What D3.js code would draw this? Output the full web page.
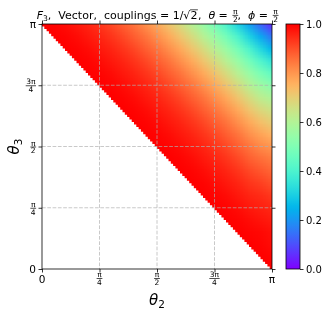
<!DOCTYPE html>
<html><head><meta charset="utf-8">
<script src="https://cdnjs.cloudflare.com/ajax/libs/d3/7.8.5/d3.min.js"></script>
<style>
html,body{margin:0;padding:0;background:#fff;}
svg{display:block;font-family:"DejaVu Sans",sans-serif;}
text{white-space:pre;}
</style></head><body>
<svg id="chart" width="327" height="318"></svg>
<script>
const N = null;
// grid node positions (fractions of pi) for theta2 (columns) and theta3 (rows)
const theta2Nodes = [0,0.05,0.1,0.15,0.2,0.25,0.3,0.35,0.4,0.45,0.5,0.55,0.6,0.65,0.7,0.75,0.8,0.85,0.9,0.95,1];
const theta3Nodes = [0,0.05,0.1,0.15,0.2,0.25,0.3,0.35,0.4,0.45,0.5,0.55,0.6,0.65,0.7,0.75,0.8,0.85,0.9,0.95,1];
// F3 values, rows = theta3 (bottom to top), columns = theta2 (left to right); null = not defined
const F3 = [
 [N,N,N,N,N,N,N,N,N,N,N,N,N,N,N,N,N,N,N,N,1],
 [N,N,N,N,N,N,N,N,N,N,N,N,N,N,N,N,N,N,N,1,.995],
 [N,N,N,N,N,N,N,N,N,N,N,N,N,N,N,N,N,N,1,.995,.985],
 [N,N,N,N,N,N,N,N,N,N,N,N,N,N,N,N,N,1,.995,.99,.98],
 [N,N,N,N,N,N,N,N,N,N,N,N,N,N,N,N,1,.995,.985,.975,.965],
 [N,N,N,N,N,N,N,N,N,N,N,N,N,N,N,1,.995,.985,.97,.96,.95],
 [N,N,N,N,N,N,N,N,N,N,N,N,N,N,1,.995,.985,.97,.955,.945,.93],
 [N,N,N,N,N,N,N,N,N,N,N,N,N,1,.995,.985,.97,.955,.935,.92,.90],
 [N,N,N,N,N,N,N,N,N,N,N,N,1,.995,.985,.97,.955,.935,.91,.89,.87],
 [N,N,N,N,N,N,N,N,N,N,N,1,.995,.985,.97,.955,.935,.91,.88,.86,.84],
 [N,N,N,N,N,N,N,N,N,N,1,.995,.985,.97,.955,.935,.91,.88,.85,.82,.80],
 [N,N,N,N,N,N,N,N,N,1,.995,.985,.97,.955,.935,.91,.88,.85,.81,.78,.75],
 [N,N,N,N,N,N,N,N,1,.995,.985,.97,.955,.935,.91,.88,.85,.81,.77,.73,.70],
 [N,N,N,N,N,N,N,1,.995,.985,.97,.955,.935,.91,.88,.85,.81,.77,.72,.68,.65],
 [N,N,N,N,N,N,1,.995,.985,.97,.955,.935,.91,.88,.85,.81,.77,.72,.67,.62,.59],
 [N,N,N,N,N,1,.995,.985,.97,.955,.935,.91,.88,.85,.81,.77,.72,.67,.61,.56,.52],
 [N,N,N,N,1,.995,.985,.97,.955,.935,.91,.88,.85,.81,.77,.72,.67,.61,.55,.49,.44],
 [N,N,N,1,.995,.985,.97,.955,.935,.91,.88,.85,.81,.77,.72,.67,.61,.55,.48,.41,.35],
 [N,N,1,.995,.985,.97,.955,.935,.91,.88,.85,.81,.77,.72,.67,.61,.55,.48,.40,.32,.25],
 [N,1,.995,.985,.97,.955,.935,.91,.88,.85,.81,.77,.72,.67,.61,.55,.48,.40,.31,.23,.15],
 [1,.995,.985,.97,.955,.935,.91,.88,.85,.81,.77,.72,.67,.61,.55,.48,.40,.31,.22,.13,.05]
];
const axisTickFracs = [0, 0.25, 0.5, 0.75, 1];
const axisTickLabels = [{t:"0"},{n:"π",d:"4"},{n:"π",d:"2"},{n:"3π",d:"4"},{t:"π"}];
const gridFracs = [0.25, 0.5, 0.75];
const cbarTicks = [0, 0.2, 0.4, 0.6, 0.8, 1.0];
const maskSteps = 100; // resolution of the original mesh (for the undefined lower triangle)

const svg = d3.select("#chart");
const PI = Math.PI;
const L = 42, R = 272, T = 24, B = 269;
const xs = d3.scaleLinear().domain([0, PI]).range([L, R]);
const ys = d3.scaleLinear().domain([0, PI]).range([B, T]);

function rainbow(t){
  t = Math.max(0, Math.min(1, t));
  const r = Math.min(1, Math.abs(2*t - 0.5)), g = Math.sin(PI*t), b = Math.cos(PI*t/2);
  return d3.rgb(r*255, g*255, b*255);
}
const color = d3.scaleSequential(rainbow).domain([0, 1]);

const defs = svg.append("defs");
const gf = defs.append("filter").attr("id","gray").attr("filterUnits","userSpaceOnUse")
  .attr("x",-400).attr("y",-400).attr("width",1200).attr("height",1200);
gf.append("feColorMatrix").attr("type","saturate").attr("values",0);

// ---- heatmap (grid nodes -> small image, smoothly scaled) ----
const nx = theta2Nodes.length, ny = theta3Nodes.length;
const cv = document.createElement("canvas"); cv.width = nx; cv.height = ny;
const ctx = cv.getContext("2d");
const img = ctx.createImageData(nx, ny);
F3.forEach((row, j) => {
  const firstValid = row.find(v => v !== null);
  row.forEach((v, i) => {
    const c = d3.rgb(color(v === null ? firstValid : v));
    const k = ((ny - 1 - j) * nx + i) * 4;
    img.data[k] = c.r; img.data[k+1] = c.g; img.data[k+2] = c.b; img.data[k+3] = 255;
  });
});
ctx.putImageData(img, 0, 0);
const hx = (theta2Nodes[1] - theta2Nodes[0]) / 2, hy = (theta3Nodes[1] - theta3Nodes[0]) / 2;
svg.append("clipPath").attr("id", "plotclip").append("rect")
  .attr("x", L).attr("y", T).attr("width", R - L).attr("height", B - T);
const x0 = xs((theta2Nodes[0] - hx) * PI), x1 = xs((theta2Nodes[nx-1] + hx) * PI);
const y0 = ys((theta3Nodes[ny-1] + hy) * PI), y1 = ys((theta3Nodes[0] - hy) * PI);
svg.append("g").attr("clip-path", "url(#plotclip)").append("image")
  .attr("href", cv.toDataURL())
  .attr("x", x0).attr("y", y0).attr("width", x1 - x0).attr("height", y1 - y0)
  .attr("preserveAspectRatio", "none");

// white staircase mask for undefined region (theta2 + theta3 < pi)
const pts = [[0, 0]];
for (let q = 0; q < maskSteps - 1; q++) {
  const xf = (maskSteps - 1 - q) / maskSteps;
  pts.push([xf, q / maskSteps]); pts.push([xf, (q + 1) / maskSteps]);
}
pts.push([0, (maskSteps - 1) / maskSteps]);
svg.append("path")
  .attr("d", "M" + pts.map(p => xs(p[0]*PI) + "," + ys(p[1]*PI)).join("L") + "Z")
  .attr("fill", "#fff");

// grid lines
const grid = svg.append("g").attr("stroke", "#b0b0b0").attr("stroke-width", 0.8)
  .attr("stroke-dasharray", "3.7,1.6").attr("opacity", 0.85);
gridFracs.forEach(f => {
  grid.append("line").attr("x1", xs(f*PI)).attr("x2", xs(f*PI)).attr("y1", T).attr("y2", B);
  grid.append("line").attr("y1", ys(f*PI)).attr("y2", ys(f*PI)).attr("x1", L).attr("x2", R);
});

// ticks on all sides
const tv = axisTickFracs.map(f => f*PI);
function styleAxis(g){ g.select(".domain").remove(); g.selectAll("line").attr("stroke","#000").attr("stroke-width",0.8); g.selectAll("text").remove(); }
svg.append("g").attr("transform",`translate(0,${B})`).call(d3.axisBottom(xs).tickValues(tv).tickSize(3.5)).call(styleAxis);
svg.append("g").attr("transform",`translate(0,${T})`).call(d3.axisTop(xs).tickValues(tv).tickSize(3.5)).call(styleAxis);
svg.append("g").attr("transform",`translate(${L},0)`).call(d3.axisLeft(ys).tickValues(tv).tickSize(3.5)).call(styleAxis);
svg.append("g").attr("transform",`translate(${R},0)`).call(d3.axisRight(ys).tickValues(tv).tickSize(3.5)).call(styleAxis);
svg.append("rect").attr("x", L).attr("y", T).attr("width", R-L).attr("height", B-T)
  .attr("fill","none").attr("stroke","#000").attr("stroke-width",0.8);

// all text goes into a grayscale-filtered layer
const txt = svg.append("g").attr("filter","url(#gray)");

// fraction helper
function frac(g, cx, barY, num, den, fs){
  const a = g.append("text").attr("x", cx).attr("y", barY - 1.3).attr("text-anchor","middle").attr("font-size", fs).text(num);
  const b = g.append("text").attr("x", cx).attr("y", barY + fs*0.78 + 0.6).attr("text-anchor","middle").attr("font-size", fs).text(den);
  const w = Math.max(a.node().getComputedTextLength(), b.node().getComputedTextLength()) + 1;
  g.append("line").attr("x1", cx - w/2).attr("x2", cx + w/2).attr("y1", barY).attr("y2", barY)
    .attr("stroke","#000").attr("stroke-width",0.7);
  return w;
}
// x tick labels
const xl = txt.append("g");
axisTickFracs.forEach((f, k) => {
  const lab = axisTickLabels[k], x = xs(f*PI);
  if (lab.t) xl.append("text").attr("x", x).attr("y", 283).attr("text-anchor","middle").attr("font-size", 10.5).text(lab.t);
  else frac(xl, x, 278.5, lab.n, lab.d, 7.5);
});
// y tick labels
const yl = txt.append("g");
axisTickFracs.forEach((f, k) => {
  const lab = axisTickLabels[k], y = ys(f*PI);
  if (lab.t) yl.append("text").attr("x", 36).attr("y", y + 3.8).attr("text-anchor","end").attr("font-size", 10.5).text(lab.t);
  else {
    const tmp = yl.append("text").attr("font-size",7.5).text(lab.n);
    const w = tmp.node().getComputedTextLength() + 1; tmp.remove();
    frac(yl, 36 - w/2, y + 0.5, lab.n, lab.d, 7.5);
  }
});

// axis labels
const xlab = txt.append("text").attr("x", 157).attr("y", 305).attr("text-anchor","middle").attr("font-size", 15);
xlab.append("tspan").attr("font-style","italic").text("θ");
xlab.append("tspan").attr("font-size", 10.5).attr("dy", 3).text("2");
const ylab = txt.append("text").attr("transform", "translate(19,146.5) rotate(-90)").attr("text-anchor","middle").attr("font-size", 15);
ylab.append("tspan").attr("font-style","italic").text("θ");
ylab.append("tspan").attr("font-size", 10.5).attr("dy", 3).text("3");

// title (mathtext-like)
const tg = txt.append("g");
const base = 19, fs = 11;
let cx = 0;
function seg(str, opt){
  opt = opt || {};
  const t = tg.append("text").attr("x", cx).attr("y", base + (opt.dy||0)).attr("font-size", opt.fs || fs).text(str);
  if (opt.it) t.attr("font-style","italic");
  cx += t.node().getComputedTextLength();
  return t;
}
seg("F", {it:1}); seg("3", {fs:7.7, dy:2.2});
seg(",  Vector,  couplings");
seg(" = ");
seg("1/");
seg("√");
const sqx = cx;
seg("2");
tg.append("line").attr("x1", sqx - 0.3).attr("x2", cx + 0.5).attr("y1", base - 9.2).attr("y2", base - 9.2).attr("stroke","#000").attr("stroke-width",0.7);
cx += 0.5;
seg(",  ");
seg("θ", {it:1});
seg(" = ");
cx += frac(tg, cx + 4, base - 3.6, "π", "2", 7.5) + 0.5;
seg(",  ");
seg("ϕ", {it:1});
seg(" = ");
cx += frac(tg, cx + 4, base - 3.6, "π", "2", 7.5);
const tw = cx;
tg.attr("transform", `translate(${157 - tw/2},0)`);

// colorbar
const cbL = 286, cbR = 300;
const cs = d3.scaleLinear().domain([0, 1]).range([B, T]);
const grad = defs.append("linearGradient").attr("id","cbg")
  .attr("x1",0).attr("y1",1).attr("x2",0).attr("y2",0);
d3.range(0, 1.0001, 0.02).forEach(t => grad.append("stop").attr("offset", t).attr("stop-color", color(t)));
svg.append("rect").attr("x", cbL).attr("y", T).attr("width", cbR-cbL).attr("height", B-T).attr("fill","url(#cbg)");
svg.append("rect").attr("x", cbL).attr("y", T).attr("width", cbR-cbL).attr("height", B-T)
  .attr("fill","none").attr("stroke","#000").attr("stroke-width",0.8);
const cax = txt.append("g").attr("transform",`translate(${cbR},0)`)
  .call(d3.axisRight(cs).tickValues(cbarTicks).tickSize(3.5).tickPadding(2.5).tickFormat(d3.format(".1f")));
cax.select(".domain").remove();
cax.selectAll("line").attr("stroke","#000").attr("stroke-width",0.8);
cax.selectAll("text").attr("font-size",10).attr("font-family",'"DejaVu Sans",sans-serif').attr("fill","#000");
</script>
</body></html>
